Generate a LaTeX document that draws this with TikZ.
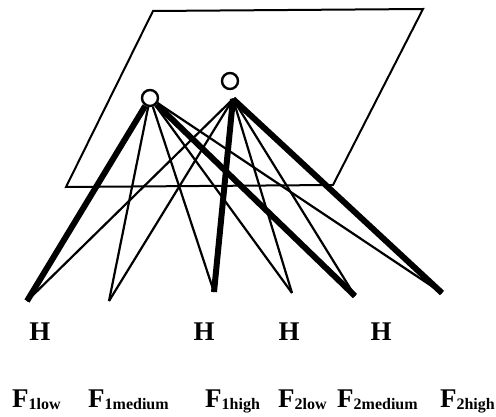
\documentclass[tikz,border=0pt]{standalone}
\usepackage{fontspec}
\setmainfont{Liberation Serif}
\newcommand{\flab}[1]{F\raisebox{-2pt}{\fontsize{16}{18}\selectfont #1}}

\begin{document}
\begin{tikzpicture}[
  x=1pt, y=-1pt,
  every node/.style={font=\fontsize{27}{29}\selectfont\bfseries, inner sep=0pt},
  unit/.style={draw, circle, line width=2.4pt, minimum size=16pt},
  weak/.style={line width=2.2pt},
  strong/.style={line width=6pt},
]
\useasboundingbox (0,0) rectangle (496,417);
\draw[line width=2pt] (153,11) -- (423,9) -- (333,185) -- (66,187) -- cycle;
\node[unit] (unit1) at (150,98) {};
\node[unit] (unit2) at (230,81) {};
\coordinate (hub2) at (233,99);
\coordinate (f1low)  at (27,301);
\coordinate (f1med)  at (109,301);
\coordinate (f1high) at (214,292);
\coordinate (f2low)  at (292,293);
\coordinate (f2med)  at (355,296);
\coordinate (f2high) at (442,293);
\draw[strong] (unit1) -- (f1low);
\draw[weak]   (unit1) -- (f1med);
\draw[weak]   (unit1) -- (f1high);
\draw[weak]   (unit1) -- (f2low);
\draw[strong] (unit1) -- (f2med);
\draw[weak]   (unit1) -- (f2high);
\draw[weak]   (hub2) -- (f1low);
\draw[weak]   (hub2) -- (f1med);
\draw[strong] (hub2) -- (f1high);
\draw[weak]   (hub2) -- (f2low);
\draw[weak]   (hub2) -- (f2med);
\draw[strong] (hub2) -- (f2high);
\node[anchor=base] (h1low)  at (40,340)  {H};
\node[anchor=base] (h1high) at (204,340) {H};
\node[anchor=base] (h2low)  at (289,340) {H};
\node[anchor=base] (h2med)  at (381,340) {H};
\node[anchor=base west] (lab1low)  at (12,407)  {\flab{1low}};
\node[anchor=base west] (lab1med)  at (88,407)  {\flab{1medium}};
\node[anchor=base west] (lab1high) at (205,407) {\flab{1high}};
\node[anchor=base west] (lab2low)  at (278,407) {\flab{2low}};
\node[anchor=base west] (lab2med)  at (337,407) {\flab{2medium}};
\node[anchor=base east] (lab2high) at (495,407) {\flab{2high}};
\end{tikzpicture}
\end{document}
